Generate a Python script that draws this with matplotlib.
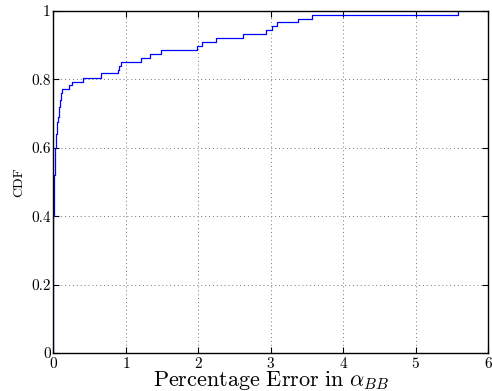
import matplotlib
matplotlib.use("Agg")
import matplotlib.pyplot as plt

plt.rcParams['font.family'] = 'serif'
plt.rcParams['font.serif'] = ['cmr10', 'DejaVu Serif']
plt.rcParams['mathtext.fontset'] = 'cm'
plt.rcParams['axes.formatter.use_mathtext'] = True

# step breakpoints of the empirical CDF (percentage error, cumulative fraction)
err_pct = [0.0, 0.0, 0.003, 0.006, 0.009, 0.012, 0.016, 0.021, 0.027, 0.033, 0.04,
           0.047, 0.054, 0.062, 0.07, 0.078, 0.086, 0.094, 0.102, 0.108, 0.113,
           0.214, 0.26, 0.41, 0.65, 0.89, 0.91, 0.93, 1.21, 1.33, 1.49, 1.98,
           2.05, 2.25, 2.62, 2.94, 3.02, 3.08, 3.38, 3.57, 5.58]
cdf_val = [0.0, 0.40, 0.43, 0.46, 0.49, 0.52, 0.55, 0.575, 0.60, 0.62, 0.64,
           0.66, 0.675, 0.69, 0.705, 0.72, 0.73, 0.74, 0.75, 0.76, 0.771,
           0.783, 0.793, 0.804, 0.817, 0.828, 0.840, 0.851, 0.863, 0.874, 0.886, 0.896,
           0.908, 0.920, 0.932, 0.944, 0.955, 0.967, 0.977, 0.989, 1.0]

x_ticks = [0, 1, 2, 3, 4, 5, 6]
y_ticks = [0, 0.2, 0.4, 0.6, 0.8, 1]
y_tick_labels = ['0', '0.2', '0.4', '0.6', '0.8', '1']

fig = plt.figure(figsize=(4.92, 3.91), dpi=100)
ax = fig.add_axes([0.1087, 0.0972, 0.8833, 0.875])

ax.step(err_pct, cdf_val, where='post', color='#0000ff', linewidth=0.9)

ax.set_xlim(0, 6)
ax.set_ylim(0, 1)
ax.set_xticks(x_ticks)
ax.set_yticks(y_ticks)
ax.set_yticklabels(y_tick_labels)
ax.tick_params(direction='in', top=True, right=True, labelsize=11, length=4, pad=2)
ax.grid(True, linestyle=(0, (1, 3)), color='#777777', linewidth=0.7)
for s in ax.spines.values():
    s.set_linewidth(1.0)

ax.set_xlabel(r'$\mathrm{Percentage\ Error\ in}\ \alpha_{BB}$', fontsize=16, labelpad=-1)
ax.set_ylabel('CDF', fontsize=10, labelpad=4)

fig.savefig('out.png', dpi=100)
